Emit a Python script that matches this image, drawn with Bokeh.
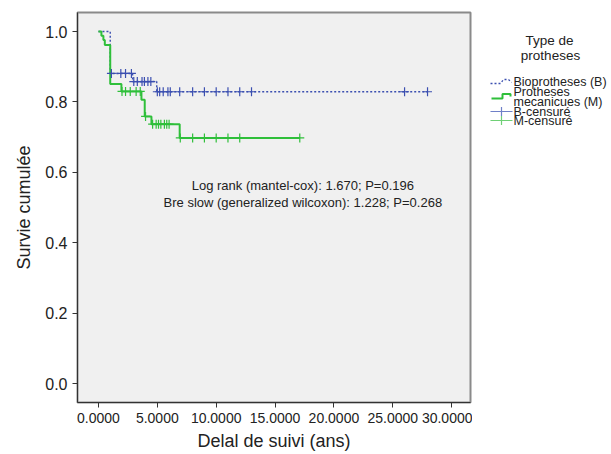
from bokeh.plotting import figure
from bokeh.layouts import row
from bokeh.models import Range1d, Label, FixedTicker, PrintfTickFormatter
from bokeh.core.properties import value
from bokeh.embed import file_html
from bokeh.resources import INLINE

# Kaplan-Meier survival steps (time in years, cumulative survival)
bio_time = [0.0, 1.0, 2.9, 4.95, 27.95]
bio_surv = [1.0, 0.881, 0.858, 0.829, 0.829]
mec_time = [0.0, 0.25, 0.42, 0.54, 1.0, 1.95, 3.65, 3.93, 4.5, 6.9, 17.1]
mec_surv = [1.0, 0.988, 0.976, 0.962, 0.851, 0.830, 0.806, 0.759, 0.737, 0.698, 0.698]

# censored observations (time in years)
bio_cens = [1.1, 1.9, 2.3, 2.8, 3.0, 3.3, 3.7, 3.9, 4.2, 4.45, 5.0, 5.2, 5.5,
            5.9, 6.1, 6.9, 8.0, 9.0, 10.0, 11.0, 12.0, 13.0, 26.0, 27.95]
mec_cens = [2.0, 2.3, 2.7, 3.2, 3.55, 4.0, 4.6, 4.9, 5.1, 5.3, 5.6, 5.8, 6.0,
            6.95, 8.0, 9.0, 10.0, 11.0, 12.0, 17.1]

x_ticks = [0, 5, 10, 15, 20, 25, 30]
y_ticks = [0.0, 0.2, 0.4, 0.6, 0.8, 1.0]

stats_lines = ["Log rank (mantel-cox): 1.670; P=0.196",
               "Bre slow (generalized wilcoxon): 1.228; P=0.268"]

legend_title = ["Type de", "protheses"]
legend_labels = ["Bioprotheses (B)", "Protheses", "mecanicues (M)",
                 "B-censuré", "M-censuré"]

BLUE = "#3b4fb0"
GREEN = "#2fbf3a"
TEXT = "#222222"
FONT = "Liberation Sans"

# shared frame margins (pixels)
TOP, BOTTOM = 12, 52
HEIGHT = 454


def surv_at(times, survs, t):
    """Survival value of a right-continuous step curve at time t."""
    s = survs[0]
    for ti, si in zip(times, survs):
        if ti <= t:
            s = si
    return s


# ---- main survival plot ----
p = figure(width=472, height=HEIGHT, output_backend="svg", toolbar_location=None,
           x_range=Range1d(-1.78, 31.6), y_range=Range1d(-0.053, 1.054),
           min_border_left=77, min_border_right=2, min_border_top=TOP,
           min_border_bottom=BOTTOM)
p.background_fill_color = "#f0f0f0"
p.border_fill_color = "white"
p.grid.visible = False
p.outline_line_color = "#8a8a8a"
p.outline_line_width = 2

for ax in (p.xaxis, p.yaxis):
    ax.axis_line_color = "#333333"
    ax.major_tick_line_color = "#333333"
    ax.major_tick_out = 5
    ax.major_tick_in = 0
    ax.minor_tick_line_color = None
    ax.major_label_text_font = FONT
    ax.major_label_text_color = TEXT
    ax.axis_label_text_font = FONT
    ax.axis_label_text_font_style = "normal"
    ax.axis_label_text_color = TEXT

p.xaxis.ticker = FixedTicker(ticks=x_ticks)
p.xaxis.formatter = PrintfTickFormatter(format="%.4f")
p.xaxis.major_label_text_font_size = "14px"
p.xaxis.axis_label = "Delal de suivi (ans)"
p.xaxis.axis_label_text_font_size = "18px"
p.xaxis.axis_label_standoff = 5

p.yaxis.ticker = FixedTicker(ticks=y_ticks)
p.yaxis.formatter = PrintfTickFormatter(format="%.1f")
p.yaxis.major_label_text_font_size = "16px"
p.yaxis.axis_label = "Survie cumulée"
p.yaxis.axis_label_text_font_size = "18px"
p.yaxis.axis_label_standoff = 8

p.step(bio_time, bio_surv, mode="after", line_color=BLUE,
       line_width=1.4, line_dash="2 2")
p.step(mec_time, mec_surv, mode="after", line_color=GREEN, line_width=2)

p.scatter(bio_cens, [surv_at(bio_time, bio_surv, t) for t in bio_cens],
          marker="cross", size=9, line_color=BLUE, line_width=1.2)
p.scatter(mec_cens, [surv_at(mec_time, mec_surv, t) for t in mec_cens],
          marker="cross", size=9, line_color=GREEN, line_width=1.2)

for txt, yv in zip(stats_lines, [0.562, 0.515]):
    p.add_layout(Label(x=17.36, y=yv, text=txt, text_align="center",
                       text_baseline="middle", text_font=FONT,
                       text_font_size="13px", text_color=TEXT))

# ---- legend panel: frame shares the plot's top/bottom margins,
#      its range is set so that units are page pixels (y downwards) ----
leg = figure(width=139, height=HEIGHT, output_backend="svg", toolbar_location=None,
             x_range=Range1d(0, 139), y_range=Range1d(HEIGHT - BOTTOM, TOP),
             min_border_left=0, min_border_right=0,
             min_border_top=TOP, min_border_bottom=BOTTOM)
leg.axis.visible = False
leg.grid.visible = False
leg.outline_line_color = None
leg.background_fill_color = "white"
leg.border_fill_color = "white"

leg.text(x=[77, 78], y=[40, 55], text=legend_title, text_align="center",
         text_baseline="middle", text_font=value(FONT),
         text_font_size="13.5px", text_color=TEXT)

leg.text(x=[41] * 5, y=[81, 91, 101, 111, 120], text=legend_labels,
         text_align="left", text_baseline="middle", text_font=value(FONT),
         text_font_size="12.5px", text_color=TEXT)

# symbols
leg.line([18, 28, 31, 36, 39], [83, 83, 79, 79, 82], line_color=BLUE,
         line_width=1.3, line_dash="2 2")
leg.line([19, 30, 30, 38, 38], [98, 98, 93.5, 93.5, 96], line_color=GREEN,
         line_width=2)
leg.line([18, 40], [111, 111], line_color="#6f80c8", line_width=1.2)
leg.scatter([29], [111], marker="cross", size=9, line_color="#6f80c8", line_width=1.2)
leg.line([18, 40], [120, 120], line_color="#6fd076", line_width=1.2)
leg.scatter([29], [120], marker="cross", size=9, line_color="#6fd076", line_width=1.2)

layout = row(p, leg)
open("out.html", "w").write(file_html(layout, INLINE))
